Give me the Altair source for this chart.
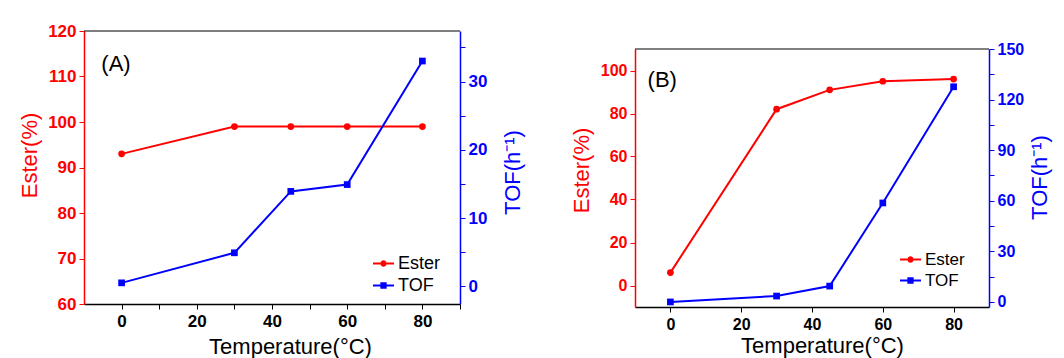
import altair as alt
import pandas as pd

# ---------------- data ----------------
temps = [0, 30, 45, 60, 80]
ester_a = [93, 99, 99, 99, 99]
tof_a = [0.5, 4.9, 13.9, 14.9, 33.0]
ester_b = [6, 82, 91, 95, 96]
tof_b = [0, 3.5, 9.4, 58.7, 127.6]
series = ["Ester", "TOF"]
x_ticks = list(range(0, 91, 10))
x_labels = [0, 20, 40, 60, 80]

RED = "#ff0000"
BLUE = "#0000ff"
FONT = "Liberation Sans"

CIRCLE_PATH = ("M-1,-0.09H-0.3V0.09H-1Z M0.3,-0.09H1V0.09H0.3Z "
               "M0.3,0A0.3,0.3 0 1 1 -0.3,0A0.3,0.3 0 1 1 0.3,0Z")
SQUARE_PATH = ("M-1,-0.09H-0.3V0.09H-1Z M0.3,-0.09H1V0.09H0.3Z "
               "M-0.3,-0.3H0.3V0.3H-0.3Z")


def show_only(vals):
    return "indexof([" + ",".join(str(v) for v in vals) + "], datum.value) == -1 ? '' : datum.label"


def panel(ester, tof, cfg):
    df = pd.DataFrame({"T": temps, "Ester": ester, "TOF": tof})
    lab = cfg["label_size"]
    tit = cfg["title_size"]
    h = cfg["height"]

    x = alt.X("T:Q",
              scale=alt.Scale(domain=[-10, 90], nice=False, zero=False),
              axis=alt.Axis(values=x_ticks, grid=False, labelOverlap=False,
                            labelExpr=show_only(x_labels),
                            labelFont=FONT, labelFontSize=lab, labelFontWeight="bold", labelColor="black",
                            labelPadding=4, tickSize=5, tickColor="black", domainColor="black",
                            domainWidth=1.5, labelFlush=False,
                            title="Temperature(°C)", titleFont=FONT, titleFontSize=tit,
                            titleFontWeight="normal", titleColor="black",
                            titleX=cfg["xt_x"], titleY=cfg["xt_y"], titleBaseline="middle",
                            titleAlign="center"))

    y_e = alt.Y("Ester:Q",
                scale=alt.Scale(domain=cfg["e_dom"], nice=False, zero=False, range=cfg["e_range"]),
                axis=alt.Axis(values=cfg["e_ticks"], grid=False, labelExpr=show_only(cfg["e_labels"]),
                              labelOverlap=False,
                              labelFont=FONT, labelFontSize=lab, labelFontWeight="bold", labelColor=RED,
                              labelPadding=3, tickSize=5, tickColor=RED, domainColor=RED, domainWidth=1.5,
                              labelFlush=False, title="Ester(%)", titleFont=FONT, titleFontSize=tit,
                              titleFontWeight="normal", titleColor=RED, titleAngle=270,
                              titleX=cfg["et_x"], titleY=cfg["et_y"], titleBaseline="middle",
                              titleAlign="center"))

    y_t = alt.Y("TOF:Q",
                scale=alt.Scale(domain=cfg["t_dom"], nice=False, zero=False, range=cfg["e_range"]),
                axis=alt.Axis(orient="right", values=cfg["t_ticks"], grid=False,
                              labelExpr=show_only(cfg["t_labels"]), labelOverlap=False,
                              labelFont=FONT, labelFontSize=lab, labelFontWeight="bold", labelColor=BLUE,
                              labelPadding=3, tickSize=5, tickColor=BLUE, domainColor=BLUE, domainWidth=1.5,
                              labelFlush=False, title="TOF(h⁻¹)", titleFont=FONT, titleFontSize=tit,
                              titleFontWeight="normal", titleColor=BLUE, titleAngle=270,
                              titleX=cfg["tt_x"], titleY=cfg["tt_y"], titleBaseline="middle",
                              titleAlign="center"))

    base = alt.Chart(df)
    e_line = base.mark_line(color=RED, strokeWidth=2).encode(x=x, y=y_e)
    e_pts = base.mark_point(filled=True, shape="circle", color=RED, size=45, opacity=1).encode(x=x, y=y_e)

    one = pd.DataFrame({"T": [0], "Ester": [0], "series": ["Ester"]})
    top_rule = alt.Chart(one).mark_rule(color="black", strokeWidth=1).encode(
        x=alt.datum(-10), x2=alt.datum(90), y=alt.datum(cfg["e_dom"][1]))
    tag = alt.Chart(one).mark_text(text=cfg["tag"], font=FONT, fontSize=tit, color="black",
                                   align="center", baseline="middle").encode(
        x=alt.datum(cfg["tag_x"]), y=alt.datum(cfg["tag_y"]))

    leg = alt.Legend(title=None, orient="none", legendX=cfg["leg_x"], legendY=cfg["leg_y"],
                     labelFont=FONT, labelFontSize=cfg["leg_size"], labelColor="black",
                     symbolSize=441, symbolStrokeWidth=0, rowPadding=2, labelOffset=4, padding=0)
    legend_layer = alt.Chart(one).transform_filter("false").mark_point(filled=True, opacity=1).encode(
        x=x, y=y_e,
        color=alt.Color("series:N", scale=alt.Scale(domain=series, range=[RED, BLUE]), legend=leg),
        shape=alt.Shape("series:N", scale=alt.Scale(domain=series, range=[CIRCLE_PATH, SQUARE_PATH]),
                        legend=leg))

    t_line = base.mark_line(color=BLUE, strokeWidth=2).encode(x=x, y=y_t)
    t_pts = base.mark_point(filled=True, shape="square", color=BLUE, size=45, opacity=1).encode(x=x, y=y_t)

    left = alt.layer(top_rule, e_line, e_pts, tag, legend_layer)
    right = alt.layer(t_line, t_pts)
    return alt.layer(left, right).resolve_scale(y="independent").properties(
        width=cfg["width"], height=h)


cfg_a = dict(width=376, height=273, label_size=17, title_size=22, leg_size=18,
             e_dom=[60, 120], e_range=[273, 0], e_ticks=list(range(60, 121, 5)),
             e_labels=list(range(60, 121, 10)),
             t_dom=[-2.6, 37.4], t_ticks=list(range(0, 36, 5)), t_labels=[0, 10, 20, 30],
             xt_x=206, xt_y=42, et_x=-55, et_y=124, tt_x=52, tt_y=141,
             tag="(A)", tag_x=-1.5, tag_y=112.7, leg_x=289, leg_y=222)

cfg_b = dict(width=354, height=276, label_size=16, title_size=22, leg_size=17,
             e_dom=[-10, 110], e_range=[276, 18], e_ticks=list(range(0, 111, 10)),
             e_labels=[0, 20, 40, 60, 80, 100],
             t_dom=[-3, 150], t_ticks=list(range(0, 151, 15)), t_labels=[0, 30, 60, 90, 120, 150],
             xt_x=187, xt_y=38, et_x=-54, et_y=139, tt_x=50, tt_y=146,
             tag="(B)", tag_x=-2.3, tag_y=95.5, leg_x=265, leg_y=218)

chart = alt.hconcat(panel(ester_a, tof_a, cfg_a), panel(ester_b, tof_b, cfg_b),
                    spacing=175, bounds="flush").resolve_scale(
    color="independent", shape="independent").resolve_legend(
    color="independent", shape="independent").properties(
    padding={"left": 10, "top": 14, "right": 5, "bottom": 2},
    background="white",
).configure_view(stroke=None)

chart.save("out.html", embed_options={"renderer": "svg", "actions": False})
